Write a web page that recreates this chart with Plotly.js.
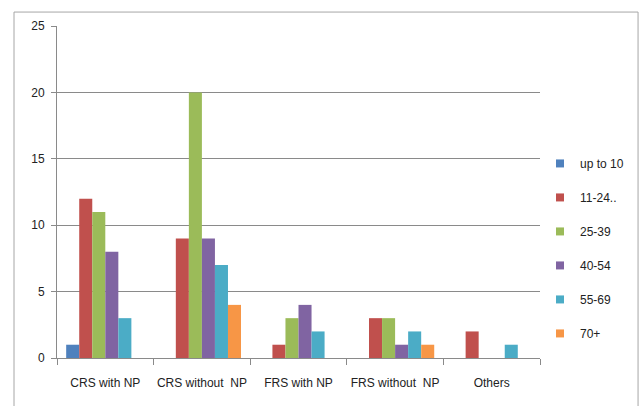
<!DOCTYPE html>
<html><head><meta charset="utf-8">
<script src="https://cdn.plot.ly/plotly-3.0.1.min.js"></script>
<style>html,body{margin:0;padding:0;background:#fff}#c{width:641px;height:406px}</style>
</head><body><div id="c"></div>
<script>
const categories = ["CRS with NP", "CRS without  NP", "FRS with NP", "FRS without  NP", "Others"];
const seriesNames = ["up to 10", "11-24..", "25-39", "40-54", "55-69", "70+"];
const upTo10 = [1, 0, 0, 0, 0];
const s11_24 = [12, 9, 1, 3, 2];
const s25_39 = [11, 20, 3, 3, 0];
const s40_54 = [8, 9, 4, 1, 0];
const s55_69 = [3, 7, 2, 2, 1];
const s70p = [0, 4, 0, 1, 0];
const yTicks = [0, 5, 10, 15, 20, 25];
const colors = ["#4F81BD", "#C0504D", "#9BBB59", "#8064A2", "#4BACC6", "#F79646"];
const seriesValues = [upTo10, s11_24, s25_39, s40_54, s55_69, s70p];

const font = {family: "Liberation Sans, Arial, sans-serif", size: 12, color: "#222"};
const traces = [];
seriesValues.forEach((vals, i) => {
  traces.push({type: "bar", x: categories, y: vals, name: seriesNames[i],
    marker: {color: colors[i], line: {width: 0}}, showlegend: false, hoverinfo: "y"});
});
seriesValues.forEach((vals, i) => {
  traces.push({type: "scatter", mode: "markers", x: [null], y: [null], name: seriesNames[i],
    legendgroup: "g" + i,
    marker: {symbol: "square", size: 8, color: colors[i]}, showlegend: true});
});

const layout = {
  width: 641, height: 406,
  margin: {l: 57, r: 101, t: 26, b: 48},
  paper_bgcolor: "#fff", plot_bgcolor: "#fff",
  font: font,
  barmode: "group", bargap: 0.19, bargroupgap: 0,
  xaxis: {type: "category", tickson: "boundaries", ticks: "outside", ticklen: 6,
    tickangle: 0, automargin: false, ticklabelstandoff: 14,
    tickcolor: "#8a8a8a", showline: true, linecolor: "#8a8a8a", linewidth: 1,
    showgrid: false, tickfont: {size: 12, color: "#222"}, fixedrange: true},
  yaxis: {range: [0, 25], tickvals: yTicks, ticks: "outside", ticklen: 5,
    tickcolor: "#8a8a8a", showline: true, linecolor: "#8a8a8a", linewidth: 1,
    gridcolor: "#8a8a8a", gridwidth: 1, zeroline: false, tickfont: {size: 12, color: "#222"},
    ticklabelstandoff: 4, fixedrange: true},
  legend: {x: 1.0, xanchor: "left", y: 0.33, yanchor: "middle", font: {size: 12, color: "#222"},
    itemwidth: 30, tracegroupgap: 15, bgcolor: "rgba(0,0,0,0)"},
  shapes: [{type: "rect", xref: "paper", yref: "paper", x0: -0.089, x1: 1.203, y0: -0.3, y1: 1.042,
    line: {color: "#a6a6a6", width: 1}, fillcolor: "rgba(0,0,0,0)", layer: "below"}],
  showlegend: true
};
Plotly.newPlot("c", traces, layout, {displayModeBar: false, staticPlot: true});
</script></body></html>
